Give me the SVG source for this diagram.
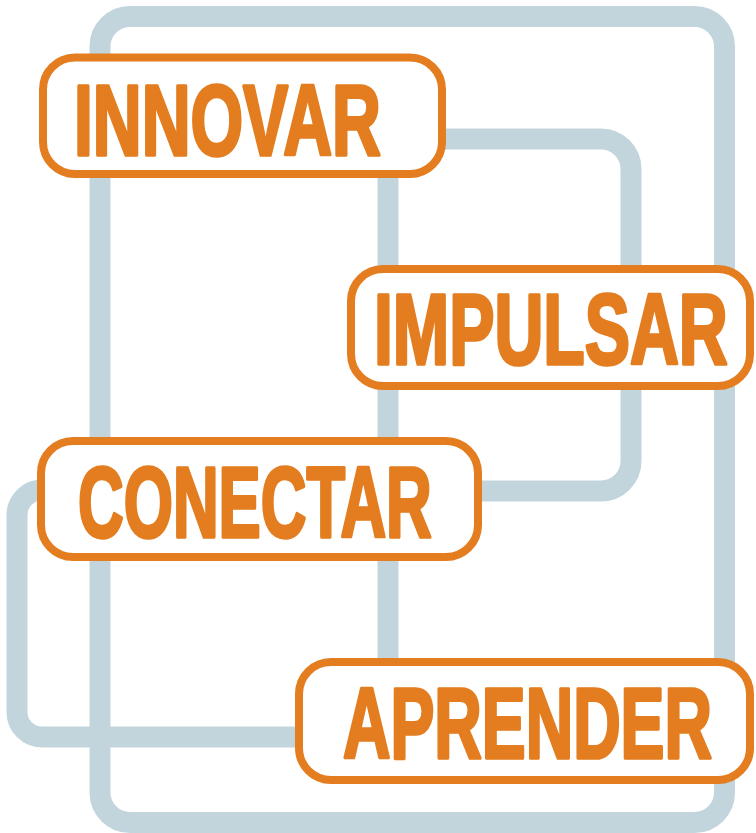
<svg xmlns="http://www.w3.org/2000/svg" width="756" height="833" viewBox="0 0 756 833">
<style>
.ln{fill:none;stroke:#c3d5dc;stroke-width:21;stroke-linejoin:round}
.box{fill:#fff;stroke:#e37d1f;stroke-width:8}
.lbl{fill:#e37d1f;stroke:#e37d1f;stroke-width:3.6;stroke-linejoin:round;font-family:"Liberation Sans",Arial,sans-serif;font-weight:bold;font-size:101px}
</style>
<rect width="756" height="833" fill="#fff"/>
<g id="connectors">
<rect class="ln" x="100" y="16.5" width="624.5" height="806" rx="30"/>
<path class="ln" d="M420 139 H601 A30 30 0 0 1 631 169 V461 A30 30 0 0 1 601 491 H440"/>
<path class="ln" d="M388 139 V690"/>
<path class="ln" d="M120 490 H42 A25 25 0 0 0 17 515 V712 A25 25 0 0 0 42 737 H330"/>
</g>
<g id="innovar">
<rect class="box" x="43" y="57.5" width="399" height="116.5" rx="32"/>
<text class="lbl" transform="translate(74 155) scale(0.66 1)" textLength="465" lengthAdjust="spacingAndGlyphs">INNOVAR</text>
</g>
<g id="impulsar">
<rect class="box" x="351" y="269" width="399" height="117" rx="32"/>
<text class="lbl" transform="translate(374 364) scale(0.66 1)" textLength="536" lengthAdjust="spacingAndGlyphs">IMPULSAR</text>
</g>
<g id="conectar">
<rect class="box" x="41" y="441" width="437" height="116" rx="32"/>
<text class="lbl" transform="translate(78 537) scale(0.66 1)" textLength="536" lengthAdjust="spacingAndGlyphs">CONECTAR</text>
</g>
<g id="aprender">
<rect class="box" x="299" y="662" width="451" height="118" rx="32"/>
<text class="lbl" transform="translate(343 758) scale(0.66 1)" textLength="559" lengthAdjust="spacingAndGlyphs">APRENDER</text>
</g>
</svg>
